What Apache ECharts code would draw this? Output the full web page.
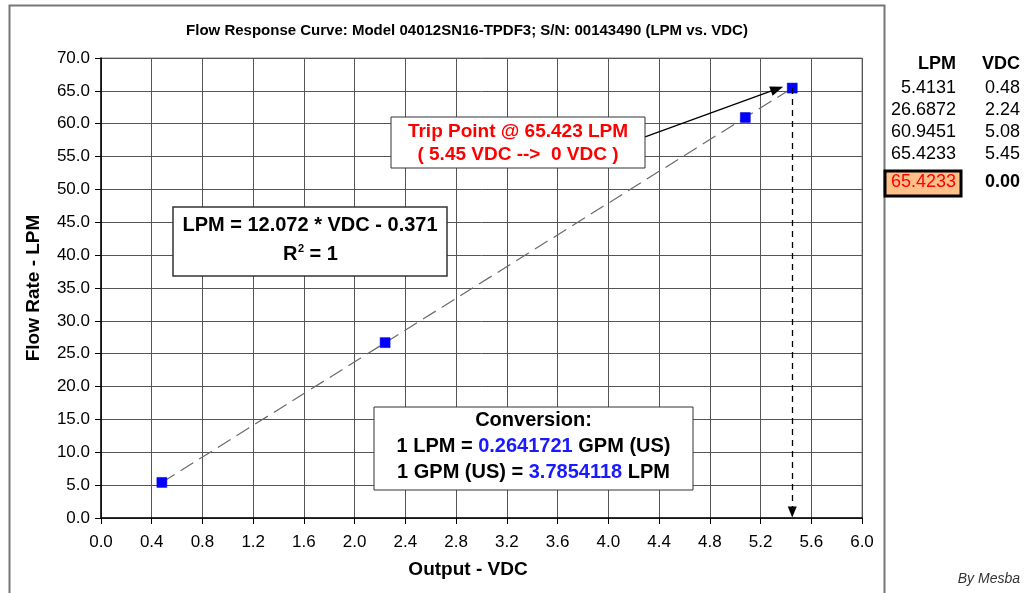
<!DOCTYPE html>
<html>
<head>
<meta charset="utf-8">
<script src="https://cdn.jsdelivr.net/npm/echarts@6/dist/echarts.min.js"></script>
<style>
  html, body { margin: 0; padding: 0; background: #fff; }
  #main { width: 1028px; height: 593px; }
</style>
</head>
<body>
<div id="main"></div>
<script>
// data
var vdc = [0.48, 2.24, 5.08, 5.45];
var lpm = [5.4131, 26.6872, 60.9451, 65.4233];
var tableLpm = ['5.4131', '26.6872', '60.9451', '65.4233'];
var tableVdc = ['0.48', '2.24', '5.08', '5.45'];
var tripLpm = '65.4233';
var tripVdc = '0.00';

var FONT = '"Liberation Sans", Arial, sans-serif';
var Z = 100;

var points = vdc.map(function (v, i) { return [v, lpm[i]]; });
var last = points.length - 1;

// table on the right
var tableEls = [
  {type: 'text', right: 72, top: 55, z: Z, style: {text: 'LPM', font: 'bold 18px ' + FONT, fill: '#000'}},
  {type: 'text', right: 8, top: 55, z: Z, style: {text: 'VDC', font: 'bold 18px ' + FONT, fill: '#000'}}
];
tableLpm.forEach(function (t, i) {
  tableEls.push({type: 'text', right: 72, top: 79 + i * 22, z: Z, style: {text: t, font: '18px ' + FONT, fill: '#000'}});
  tableEls.push({type: 'text', right: 8, top: 79 + i * 22, z: Z, style: {text: tableVdc[i], font: '18px ' + FONT, fill: '#000'}});
});

function box(x, y, w, h, lw, lines) {
  var kids = [{type: 'rect', z: Z, shape: {x: x, y: y, width: w, height: h},
    style: {fill: '#fff', stroke: '#333', lineWidth: lw}}];
  lines.forEach(function (l) {
    kids.push({type: 'text', z: Z + 1, x: x + (l.dx != null ? l.dx : w / 2), y: y + l.dy, style: l.style});
  });
  return kids;
}

var bold20 = 'bold 20px ' + FONT;
var blue = '#1a1aff';

var graphics = [
  // outer chart frame
  {type: 'rect', z: -10, shape: {x: 9.5, y: 5.5, width: 875, height: 600}, style: {fill: null, stroke: '#777', lineWidth: 2}}
].concat(
  box(391, 117, 254, 51, 1, [
    {dy: 5, style: {text: 'Trip Point @ 65.423 LPM', font: 'bold 19px ' + FONT, fill: '#ff0000', textAlign: 'center'}},
    {dy: 28, style: {text: '( 5.45 VDC -->  0 VDC )', font: 'bold 19px ' + FONT, fill: '#ff0000', textAlign: 'center'}}
  ]),
  box(173, 207, 274, 69, 1.5, [
    {dy: 8, style: {text: 'LPM = 12.072 * VDC - 0.371', font: bold20, fill: '#000', textAlign: 'center'}},
    {dx: 110, dy: 37, style: {text: 'R', font: bold20, fill: '#000'}},
    {dx: 125, dy: 36, style: {text: '2', font: 'bold 11px ' + FONT, fill: '#000'}},
    {dx: 131, dy: 37, style: {text: ' = 1', font: bold20, fill: '#000'}}
  ]),
  box(374, 407, 319, 83, 1, [
    {dy: 3, style: {text: 'Conversion:', font: bold20, fill: '#000', textAlign: 'center'}},
    {dy: 29, style: {
      text: '{k|1 LPM = }{b|0.2641721}{k| GPM (US)}', textAlign: 'center',
      rich: {k: {font: bold20, fill: '#000'}, b: {font: bold20, fill: blue}}
    }},
    {dy: 55, style: {
      text: '{k|1 GPM (US) = }{b|3.7854118}{k| LPM}', textAlign: 'center',
      rich: {k: {font: bold20, fill: '#000'}, b: {font: bold20, fill: blue}}
    }}
  ]),
  [
    // highlighted trip cell
    {type: 'rect', z: Z, shape: {x: 885, y: 171, width: 76, height: 25}, style: {fill: '#ffc08a', stroke: '#000', lineWidth: 3}},
    {type: 'text', z: Z + 1, right: 72, top: 173, style: {text: tripLpm, font: '18px ' + FONT, fill: '#ff0000'}},
    {type: 'text', z: Z + 1, right: 8, top: 173, style: {text: tripVdc, font: 'bold 18px ' + FONT, fill: '#000'}},
    // signature
    {type: 'text', z: Z, right: 8, top: 572, style: {text: 'By Mesba', font: 'italic 14px ' + FONT, fill: '#333'}}
  ],
  tableEls
);

var myChart = echarts.init(document.getElementById('main'));
var option = {
  backgroundColor: '#fff',
  animation: false,
  title: {
    text: 'Flow Response Curve: Model 04012SN16-TPDF3; S/N: 00143490 (LPM vs. VDC)',
    left: 462, top: 18, textAlign: 'center',
    textStyle: {fontFamily: FONT, fontSize: 15, fontWeight: 'bold', color: '#000'}
  },
  grid: {left: 101, right: 166, top: 58, bottom: 75, show: true, borderColor: '#888', borderWidth: 1},
  xAxis: {
    type: 'value', min: 0, max: 6, interval: 0.4,
    name: 'Output - VDC', nameLocation: 'middle', nameGap: 42,
    nameTextStyle: {fontFamily: FONT, fontSize: 19, fontWeight: 'bold', color: '#000', padding: [0, 27, 0, 0]},
    axisLine: {lineStyle: {color: '#000', width: 1.5}},
    axisTick: {show: true, length: 6, lineStyle: {color: '#000'}},
    axisLabel: {fontFamily: FONT, fontSize: 17, color: '#000', margin: 16,
      formatter: function (v) { return v.toFixed(1); }},
    splitLine: {lineStyle: {color: '#555', width: 1}}
  },
  yAxis: {
    type: 'value', min: 0, max: 70, interval: 5,
    name: 'Flow Rate - LPM', nameLocation: 'middle', nameGap: 58,
    nameTextStyle: {fontFamily: FONT, fontSize: 19, fontWeight: 'bold', color: '#000'},
    axisLine: {show: true, lineStyle: {color: '#000', width: 1.5}},
    axisTick: {show: true, length: 6, lineStyle: {color: '#000'}},
    axisLabel: {fontFamily: FONT, fontSize: 17, color: '#000', margin: 11,
      formatter: function (v) { return v.toFixed(1); }},
    splitLine: {lineStyle: {color: '#555', width: 1}}
  },
  series: [
    {
      // trendline through the data range
      type: 'line',
      data: [points[0], points[last]],
      symbol: 'none',
      lineStyle: {color: '#6a6a6a', width: 1.2, type: [15, 7]},
      z: 2
    },
    {
      type: 'scatter',
      data: points,
      symbol: 'rect', symbolSize: 10,
      itemStyle: {color: '#0000ff', borderColor: '#0000cc', borderWidth: 0.5, opacity: 1},
      z: 4,
      markLine: {
        silent: true,
        label: {show: false},
        data: [
          [
            {coord: [vdc[last], lpm[last]], symbol: 'none',
              lineStyle: {color: '#000', width: 1.3, type: [6, 5]}},
            {coord: [vdc[last], 0.9], symbol: 'triangle', symbolSize: [9, 11], symbolRotate: 180}
          ],
          [
            {coord: [4.29, 58.0], symbol: 'none',
              lineStyle: {color: '#000', width: 1.3, type: 'solid'}},
            {coord: [5.33, 65.3], symbol: 'triangle', symbolSize: [10, 13]}
          ]
        ]
      }
    }
  ],
  graphic: graphics
};
myChart.setOption(option);
</script>
</body>
</html>
